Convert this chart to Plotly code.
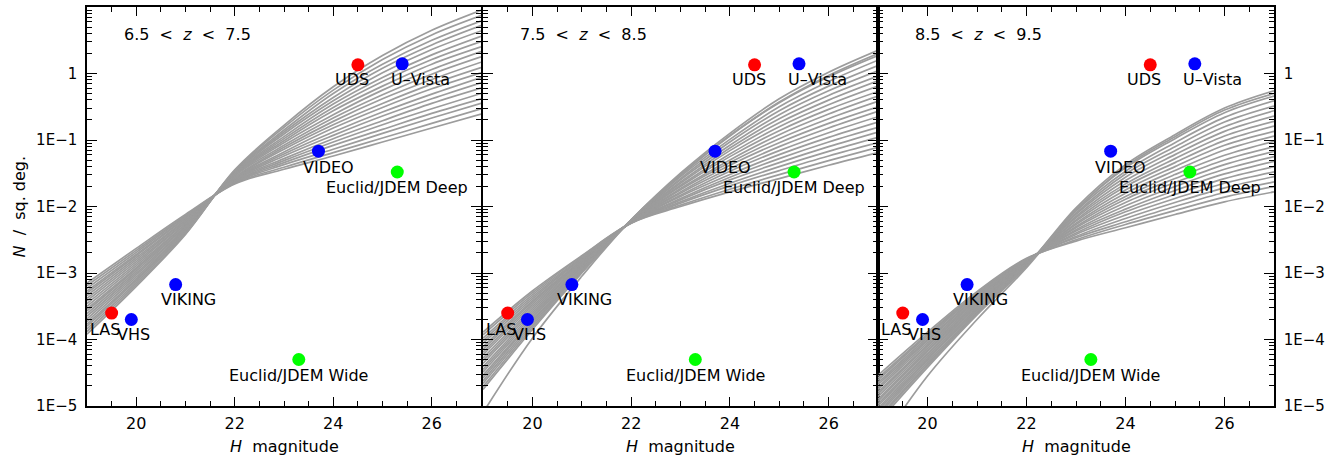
import math
import plotly.graph_objects as go

# ---------------- data ----------------
mag_grid = [19, 20, 21, 22, 23, 24, 25, 26, 27]

panel_titles = [
    "6.5&nbsp;&nbsp;&lt;&nbsp;&nbsp;<i>z</i>&nbsp;&nbsp;&lt;&nbsp;&nbsp;7.5",
    "7.5&nbsp;&nbsp;&lt;&nbsp;&nbsp;<i>z</i>&nbsp;&nbsp;&lt;&nbsp;&nbsp;8.5",
    "8.5&nbsp;&nbsp;&lt;&nbsp;&nbsp;<i>z</i>&nbsp;&nbsp;&lt;&nbsp;&nbsp;9.5",
]

# log10(N / sq. deg.) of model number counts at mag_grid
logN_z7 = [
    [-3.15, -2.63, -2.12, -1.66, -1.44, -1.24, -1.03, -0.82, -0.61],
    [-3.19, -2.66, -2.14, -1.65, -1.41, -1.19, -0.97, -0.75, -0.53],
    [-3.23, -2.69, -2.15, -1.64, -1.37, -1.14, -0.90, -0.67, -0.45],
    [-3.27, -2.72, -2.17, -1.63, -1.34, -1.08, -0.84, -0.60, -0.38],
    [-3.30, -2.74, -2.18, -1.62, -1.31, -1.03, -0.77, -0.53, -0.30],
    [-3.34, -2.77, -2.20, -1.61, -1.28, -0.98, -0.71, -0.45, -0.22],
    [-3.38, -2.80, -2.21, -1.60, -1.24, -0.93, -0.64, -0.38, -0.14],
    [-3.42, -2.83, -2.23, -1.59, -1.21, -0.88, -0.58, -0.31, -0.06],
    [-3.46, -2.86, -2.24, -1.58, -1.18, -0.82, -0.51, -0.23, 0.01],
    [-3.50, -2.89, -2.26, -1.57, -1.14, -0.77, -0.45, -0.16, 0.09],
    [-3.54, -2.92, -2.27, -1.56, -1.11, -0.72, -0.38, -0.09, 0.17],
    [-3.57, -2.94, -2.29, -1.54, -1.08, -0.67, -0.32, -0.01, 0.25],
    [-3.61, -2.97, -2.30, -1.53, -1.04, -0.62, -0.25, 0.06, 0.33],
    [-3.65, -3.00, -2.32, -1.52, -1.01, -0.56, -0.19, 0.14, 0.40],
    [-3.69, -3.03, -2.33, -1.51, -0.98, -0.51, -0.12, 0.21, 0.48],
    [-3.73, -3.06, -2.35, -1.50, -0.95, -0.46, -0.06, 0.28, 0.56],
    [-3.77, -3.09, -2.36, -1.49, -0.91, -0.41, 0.01, 0.36, 0.64],
    [-3.80, -3.11, -2.38, -1.48, -0.88, -0.36, 0.08, 0.43, 0.72],
    [-3.84, -3.14, -2.39, -1.47, -0.85, -0.30, 0.14, 0.50, 0.79],
    [-3.88, -3.17, -2.41, -1.46, -0.81, -0.25, 0.21, 0.58, 0.87],
    [-3.92, -3.20, -2.42, -1.45, -0.78, -0.20, 0.27, 0.65, 0.95],
]

logN_z8 = [
    [-3.89, -3.27, -2.74, -2.25, -2.00, -1.78, -1.58, -1.38, -1.19],
    [-3.93, -3.30, -2.75, -2.25, -1.98, -1.74, -1.52, -1.31, -1.11],
    [-3.98, -3.33, -2.77, -2.25, -1.95, -1.69, -1.46, -1.24, -1.04],
    [-4.02, -3.36, -2.78, -2.24, -1.93, -1.65, -1.40, -1.17, -0.96],
    [-4.06, -3.39, -2.79, -2.24, -1.90, -1.60, -1.34, -1.10, -0.88],
    [-4.11, -3.42, -2.81, -2.24, -1.88, -1.56, -1.28, -1.03, -0.81],
    [-4.15, -3.44, -2.82, -2.24, -1.85, -1.52, -1.22, -0.96, -0.73],
    [-4.19, -3.47, -2.83, -2.23, -1.83, -1.47, -1.16, -0.89, -0.65],
    [-4.23, -3.50, -2.84, -2.23, -1.80, -1.43, -1.10, -0.82, -0.57],
    [-4.28, -3.53, -2.86, -2.23, -1.78, -1.38, -1.04, -0.75, -0.50],
    [-4.32, -3.56, -2.87, -2.23, -1.75, -1.34, -0.98, -0.68, -0.42],
    [-4.36, -3.59, -2.88, -2.22, -1.73, -1.30, -0.92, -0.61, -0.34],
    [-4.41, -3.62, -2.90, -2.22, -1.70, -1.25, -0.86, -0.54, -0.27],
    [-4.45, -3.65, -2.91, -2.22, -1.68, -1.21, -0.80, -0.47, -0.19],
    [-4.49, -3.68, -2.92, -2.22, -1.65, -1.16, -0.74, -0.40, -0.11],
    [-4.54, -3.71, -2.94, -2.21, -1.63, -1.12, -0.68, -0.33, -0.04],
    [-4.58, -3.73, -2.95, -2.21, -1.60, -1.08, -0.62, -0.26, 0.04],
    [-4.62, -3.76, -2.96, -2.21, -1.58, -1.03, -0.56, -0.19, 0.12],
    [-4.66, -3.79, -2.97, -2.21, -1.55, -0.99, -0.50, -0.12, 0.20],
    [-4.71, -3.82, -2.99, -2.20, -1.53, -0.94, -0.44, -0.05, 0.27],
    [-4.75, -3.85, -3.00, -2.20, -1.50, -0.90, -0.38, 0.02, 0.35],
    [-5.10, -3.98, -3.05, -2.20, -1.52, -0.93, -0.43, -0.03, 0.30],
]

logN_z9 = [
    [-4.54, -3.89, -3.28, -2.78, -2.52, -2.32, -2.12, -1.93, -1.78],
    [-4.58, -3.92, -3.30, -2.79, -2.50, -2.27, -2.06, -1.86, -1.70],
    [-4.61, -3.94, -3.32, -2.79, -2.47, -2.23, -2.00, -1.79, -1.63],
    [-4.65, -3.97, -3.33, -2.80, -2.45, -2.18, -1.94, -1.72, -1.55],
    [-4.68, -4.00, -3.35, -2.80, -2.42, -2.13, -1.88, -1.65, -1.48],
    [-4.72, -4.02, -3.37, -2.81, -2.40, -2.08, -1.82, -1.58, -1.40],
    [-4.75, -4.05, -3.39, -2.82, -2.37, -2.04, -1.76, -1.51, -1.32],
    [-4.79, -4.08, -3.40, -2.82, -2.35, -1.99, -1.70, -1.44, -1.25],
    [-4.82, -4.10, -3.42, -2.83, -2.32, -1.94, -1.64, -1.37, -1.17],
    [-4.86, -4.13, -3.44, -2.83, -2.30, -1.89, -1.58, -1.30, -1.10],
    [-4.90, -4.16, -3.46, -2.84, -2.27, -1.85, -1.52, -1.23, -1.02],
    [-4.93, -4.18, -3.47, -2.85, -2.25, -1.80, -1.46, -1.15, -0.94],
    [-4.97, -4.21, -3.49, -2.85, -2.22, -1.75, -1.40, -1.08, -0.87],
    [-5.00, -4.23, -3.51, -2.86, -2.20, -1.70, -1.34, -1.01, -0.79],
    [-5.04, -4.26, -3.53, -2.86, -2.17, -1.66, -1.28, -0.94, -0.72],
    [-5.07, -4.29, -3.54, -2.87, -2.15, -1.61, -1.22, -0.87, -0.64],
    [-5.11, -4.31, -3.56, -2.88, -2.12, -1.56, -1.16, -0.80, -0.56],
    [-5.14, -4.34, -3.58, -2.88, -2.10, -1.51, -1.10, -0.73, -0.49],
    [-5.18, -4.37, -3.60, -2.89, -2.07, -1.47, -1.04, -0.66, -0.41],
    [-5.21, -4.39, -3.61, -2.89, -2.05, -1.42, -0.98, -0.59, -0.34],
    [-5.25, -4.42, -3.63, -2.90, -2.02, -1.37, -0.92, -0.52, -0.26],
    [-5.60, -4.55, -3.70, -2.92, -2.05, -1.40, -0.95, -0.55, -0.30],
]

survey_names = ["LAS", "VHS", "VIKING", "Euclid/JDEM Wide", "VIDEO",
                "Euclid/JDEM Deep", "UDS", "U\u2013Vista"]
survey_mag = [19.5, 19.9, 20.8, 23.3, 23.7, 25.3, 24.5, 25.4]
survey_N = [2.5e-4, 2.0e-4, 6.7e-4, 5.0e-5, 6.8e-2, 3.3e-2, 1.35, 1.4]

ytick_vals = [1e-5, 1e-4, 1e-3, 1e-2, 1e-1, 1]
ytick_text = ["1E\u22125", "1E\u22124", "1E\u22123", "1E\u22122", "1E\u22121", "1"]
xtick_vals = [20, 22, 24, 26]

# ---------------- style ----------------
survey_colors = ["#ff0000", "#0000ff", "#0000ff", "#00ff00", "#0000ff",
                 "#00ff00", "#ff0000", "#0000ff"]
# label offsets in pixels (right, up) from each marker
label_shift = [(-7, -16), (2, -15), (13, -15), (0, -16), (10, -16),
               (0, -15), (-6, -15), (18, -16)]

FONT = "DejaVu Sans"
W, H = 1344, 457
ML, MR, MT, MB = 87, 70, 5, 51
plot_w = W - ML - MR
panel_px = [(87, 481), (483, 878), (878, 1274)]
domains = [[(a - ML) / plot_w, (b - ML) / plot_w] for a, b in panel_px]

minor_y = [m * 10 ** e for e in range(-5, 1) for m in range(2, 10)]

fig = go.Figure()
all_curves = [logN_z7, logN_z8, logN_z9]

for p in range(3):
    xa = "x" if p == 0 else f"x{p + 1}"
    ya = "y" if p == 0 else f"y{p + 1}"
    for c in all_curves[p]:
        fig.add_trace(go.Scatter(
            x=mag_grid, y=[10 ** v for v in c], mode="lines",
            line=dict(color="#9c9c9c", width=1.7, shape="spline", smoothing=1.0),
            xaxis=xa, yaxis=ya, hoverinfo="skip", showlegend=False))
    fig.add_trace(go.Scatter(
        x=survey_mag, y=survey_N, mode="markers",
        marker=dict(color=survey_colors, size=13, line=dict(width=0)),
        xaxis=xa, yaxis=ya, showlegend=False, cliponaxis=False))
    for name, mx, ny, (dx, dy) in zip(survey_names, survey_mag, survey_N, label_shift):
        fig.add_annotation(x=mx, y=math.log10(ny), xref=xa, yref=ya, text=name,
                           showarrow=False, xshift=dx, yshift=dy,
                           font=dict(family=FONT, size=16, color="black"),
                           xanchor="center", yanchor="middle")
    fig.add_annotation(x=35 / 394, y=(406 - 33) / 401,
                       xref=f"{xa} domain", yref=f"{ya} domain",
                       text=panel_titles[p], showarrow=False,
                       xanchor="left", yanchor="middle",
                       font=dict(family=FONT, size=16, color="black"))
    # x title
    fig.add_annotation(x=0.5, y=0, xref=f"{xa} domain", yref="paper",
                       text="<i>H</i>&nbsp;&nbsp;magnitude", showarrow=False,
                       yshift=-40, xanchor="center", yanchor="middle",
                       font=dict(family=FONT, size=16, color="black"))

    xkey = "xaxis" if p == 0 else f"xaxis{p + 1}"
    ykey = "yaxis" if p == 0 else f"yaxis{p + 1}"
    fig.update_layout(**{
        xkey: dict(domain=domains[p], anchor=ya, range=[19, 27],
                   tickmode="array", tickvals=xtick_vals,
                   ticks="inside", ticklen=9, tickwidth=1, tickcolor="black",
                   mirror="allticks", showline=True, linecolor="black", linewidth=1.5,
                   showgrid=False, zeroline=False, ticklabelstandoff=2,
                   tickfont=dict(family=FONT, size=16, color="black"),
                   minor=dict(dtick=0.5, tick0=19, ticks="inside", ticklen=5,
                              tickcolor="black", showgrid=False)),
        ykey: dict(type="log", range=[-5, 1], anchor=xa,
                   tickmode="array", tickvals=ytick_vals, ticktext=ytick_text,
                   ticks="inside", ticklen=10, tickwidth=1, tickcolor="black",
                   mirror="allticks", showline=True, linecolor="black", linewidth=1.5,
                   showgrid=False, zeroline=False, ticklabelstandoff=5,
                   showticklabels=(p != 1),
                   side="right" if p == 2 else "left",
                   tickfont=dict(family=FONT, size=15, color="black"),
                   minor=dict(tickmode="array", tickvals=minor_y, ticks="inside",
                              ticklen=5, tickcolor="black", showgrid=False)),
    })

fig.add_annotation(x=-(87 - 19) / plot_w, y=0.5, xref="paper", yref="paper",
                   text="<i>N</i>&nbsp;&nbsp;/&nbsp;&nbsp;sq.&nbsp;deg.", textangle=-90,
                   showarrow=False, xanchor="center", yanchor="middle",
                   font=dict(family=FONT, size=16, color="black"))

fig.update_layout(width=W, height=H, margin=dict(l=ML, r=MR, t=MT, b=MB),
                  plot_bgcolor="white", paper_bgcolor="white", showlegend=False)

fig.write_html("out.html", config={"displayModeBar": False},
               post_script="document.body.style.margin='0px';document.body.style.overflow='hidden';")
